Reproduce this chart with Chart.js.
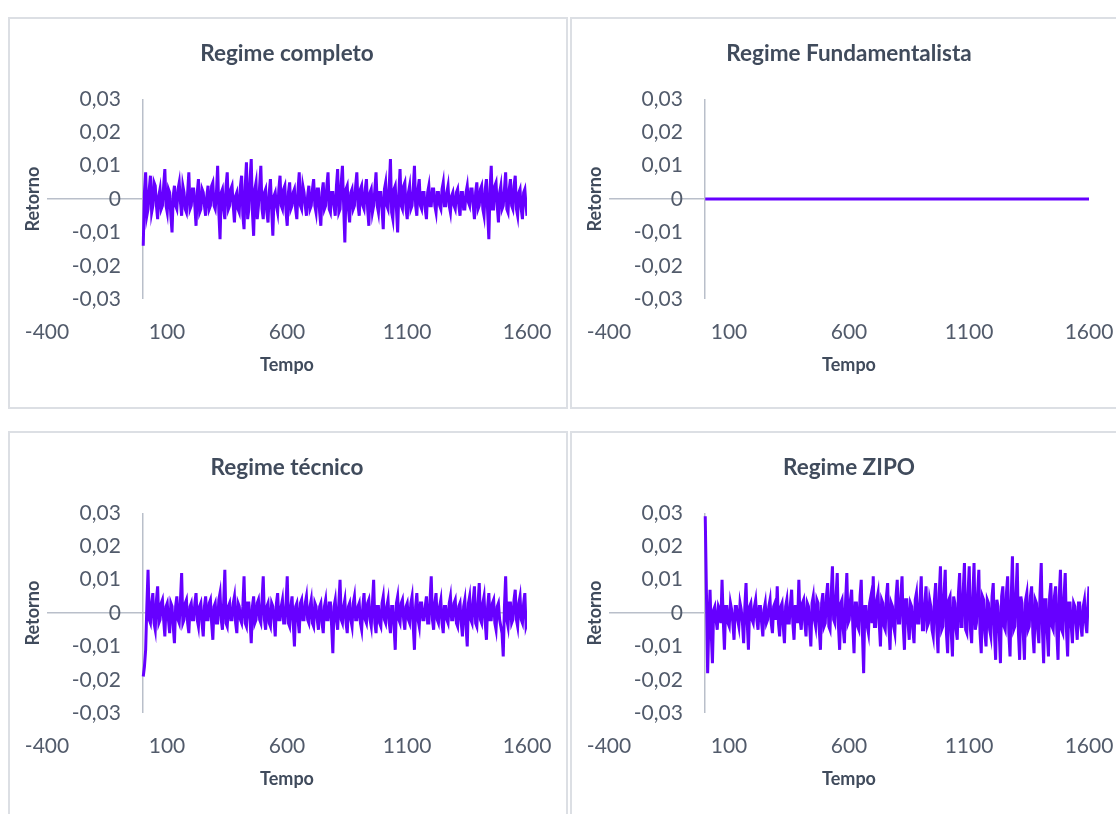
<!DOCTYPE html>
<html lang="pt">
<head>
<meta charset="utf-8">
<title>Regimes - Retorno</title>
<script src="https://cdn.jsdelivr.net/npm/chart.js@4.4.1/dist/chart.umd.min.js"></script>
<style>
  html, body { margin: 0; padding: 0; background: #fff; overflow: hidden; }
  body { width: 1116px; height: 814px; position: relative; }
  .painel {
    position: absolute;
    width: 560px;
    height: 392px;
    border: 2px solid #dcdfe4;
    box-sizing: border-box;
    background: #fff;
  }
  .painel canvas { display: block; }
</style>
</head>
<body>
<div class="painel" style="left:8px;top:17px"><canvas id="g1" width="556" height="388"></canvas></div>
<div class="painel" style="left:570px;top:17px"><canvas id="g2" width="556" height="388"></canvas></div>
<div class="painel" style="left:8px;top:431px"><canvas id="g3" width="556" height="388"></canvas></div>
<div class="painel" style="left:570px;top:431px"><canvas id="g4" width="556" height="388"></canvas></div>

<script>
// eixos
let xTicks = [-400, 100, 600, 1100, 1600];
let yTicks = [-0.03, -0.02, -0.01, 0, 0.01, 0.02, 0.03];

// tempo amostrado (cada 5 periodos)
let tempo = [
  1, 6, 11, 16, 21, 26, 31, 36, 41, 46, 51, 56, 61, 66, 71, 76, 81, 86, 91, 96,
  101, 106, 111, 116, 121, 126, 131, 136, 141, 146, 151, 156, 161, 166, 171, 176, 181, 186, 191, 196,
  201, 206, 211, 216, 221, 226, 231, 236, 241, 246, 251, 256, 261, 266, 271, 276, 281, 286, 291, 296,
  301, 306, 311, 316, 321, 326, 331, 336, 341, 346, 351, 356, 361, 366, 371, 376, 381, 386, 391, 396,
  401, 406, 411, 416, 421, 426, 431, 436, 441, 446, 451, 456, 461, 466, 471, 476, 481, 486, 491, 496,
  501, 506, 511, 516, 521, 526, 531, 536, 541, 546, 551, 556, 561, 566, 571, 576, 581, 586, 591, 596,
  601, 606, 611, 616, 621, 626, 631, 636, 641, 646, 651, 656, 661, 666, 671, 676, 681, 686, 691, 696,
  701, 706, 711, 716, 721, 726, 731, 736, 741, 746, 751, 756, 761, 766, 771, 776, 781, 786, 791, 796,
  801, 806, 811, 816, 821, 826, 831, 836, 841, 846, 851, 856, 861, 866, 871, 876, 881, 886, 891, 896,
  901, 906, 911, 916, 921, 926, 931, 936, 941, 946, 951, 956, 961, 966, 971, 976, 981, 986, 991, 996,
  1001, 1006, 1011, 1016, 1021, 1026, 1031, 1036, 1041, 1046, 1051, 1056, 1061, 1066, 1071, 1076, 1081, 1086, 1091, 1096,
  1101, 1106, 1111, 1116, 1121, 1126, 1131, 1136, 1141, 1146, 1151, 1156, 1161, 1166, 1171, 1176, 1181, 1186, 1191, 1196,
  1201, 1206, 1211, 1216, 1221, 1226, 1231, 1236, 1241, 1246, 1251, 1256, 1261, 1266, 1271, 1276, 1281, 1286, 1291, 1296,
  1301, 1306, 1311, 1316, 1321, 1326, 1331, 1336, 1341, 1346, 1351, 1356, 1361, 1366, 1371, 1376, 1381, 1386, 1391, 1396,
  1401, 1406, 1411, 1416, 1421, 1426, 1431, 1436, 1441, 1446, 1451, 1456, 1461, 1466, 1471, 1476, 1481, 1486, 1491, 1496,
  1501, 1506, 1511, 1516, 1521, 1526, 1531, 1536, 1541, 1546, 1551, 1556, 1561, 1566, 1571, 1576, 1581, 1586, 1591, 1596,
  1600
];

// retornos em milesimos (0,001)
let retornoCompleto = [
  -14, 2, 8, -5, -3, 3, 7, -4, -2, 5, 4, -2, -6, 1, 3, -3, -2, 4, 9, -2, -4, 3,
  2, -5, -10, 1, 4, -2, -3, 3, 5, -1, -5, 4, 2, -3, -4, 2, 8, -3, -2, 3,
  3, -2, -8, 2, 6, -4, -3, 3, 2, -2, -5, 1, 4, -3, -2, 4, 5, -2, -3, 2,
  10, -4, -12, 2, 3, -3, -6, 4, 8, -3, -2, 3, 4, -2, -7, 1, 2, -3, -4, 4,
  7, -5, -9, 4, 11, -6, -3, 6, 12, -4, -11, 3, 5, -6, -2, 4, 10, -3, -6, 2,
  3, -4, -7, 2, 6, -3, -11, 1, 2, -2, -4, 3, 7, -2, -3, 3, 4, -4, -8, 2,
  5, -3, -2, 2, 3, -3, -6, 3, 8, -2, -3, 4, 2, -2, -5, 1, 4, -3, -2, 3,
  6, -2, -4, 3, 3, -4, -8, 2, 5, -3, -2, 4, 8, -3, -4, 2, 2, -2, -5, 4,
  9, -4, -3, 5, 10, -2, -13, 3, 4, -3, -7, 2, 3, -3, -2, 4, 8, -2, -5, 3,
  4, -2, -3, 3, 6, -3, -8, 2, 3, -4, -2, 3, 8, -2, -4, 2, 2, -3, -9, 3,
  5, -2, -3, 4, 12, -4, -6, 3, 4, -3, -10, 2, 9, -2, -3, 4, 5, -3, -6, 2,
  4, -3, -2, 3, 10, -2, -5, 3, 6, -2, -3, 2, 2, -3, -6, 2, 4, -2, -2, 3,
  3, -2, -4, 2, 2, -2, -3, 3, 5, -2, -2, 2, 4, -2, -4, 1, 2, -2, -3, 2,
  3, -2, -5, 2, 2, -3, -3, 2, 4, -1, -2, 3, 3, -2, -6, 2, 5, -3, -2, 3,
  4, -3, -5, 3, 6, -4, -12, 3, 10, -3, -3, 4, 5, -2, -7, 2, 4, -3, -2, 3,
  8, -3, -4, 3, 6, -2, -3, 4, 7, -3, -5, 2, 3, -3, -6, 2, 3, -2, -5
];

let tempoFund = [1, 400, 800, 1200, 1600];
let retornoFund = [0, 0, 0, 0, 0];

let retornoTecnico = [
  -19, -16, -11, 2, 13, -2, -3, 3, 6, -3, -5, 4, 8, -3, -2, 3, 4, -2, -7, 2, 3, -2,
  -6, 3, 2, -4, -9, 2, 5, -2, -3, 4, 12, -3, -2, 3, 4, -3, -6, 2, 3, -2,
  -2, 3, 6, -2, -4, 2, 3, -3, -7, 2, 5, -2, -2, 3, 4, -3, -8, 2, 3, -3,
  -3, 4, 6, -2, -5, 3, 13, -3, -4, 2, 3, -2, -2, 3, 5, -3, -6, 3, 2, -2,
  -3, 2, 11, -3, -4, 3, 3, -2, -9, 2, 5, -3, -2, 3, 4, -2, -3, 4, 11, -2,
  -5, 2, 3, -3, -4, 3, 2, -2, -7, 3, 6, -2, -2, 2, 4, -3, -3, 3, 11, -3,
  -4, 2, 5, -3, -10, 2, 3, -2, -6, 3, 4, -2, -2, 3, 5, -2, -3, 2, 4, -3,
  -4, 3, 2, -2, -5, 2, 3, -3, -6, 2, 4, -2, -2, 3, 3, -4, -12, 2, 4, -2,
  -5, 3, 10, -2, -3, 2, 4, -3, -6, 2, 3, -2, -4, 3, 5, -2, -2, 2, 3, -3,
  -5, 2, 6, -2, -3, 3, 4, -2, -4, 3, 10, -3, -6, 2, 2, -3, -4, 3, 5, -2,
  -3, 2, 4, -3, -6, 2, 2, -4, -11, 3, 5, -2, -3, 3, 4, -2, -5, 2, 3, -2,
  -3, 3, 5, -4, -11, 2, 6, -2, -4, 3, 3, -2, -2, 2, 5, -3, -3, 4, 11, -2,
  -5, 3, 6, -2, -3, 2, 4, -3, -6, 2, 2, -2, -3, 3, 5, -2, -2, 3, 4, -3,
  -4, 2, 3, -3, -7, 2, 4, -4, -10, 3, 5, -2, -3, 4, 8, -3, -4, 3, 9, -2,
  -3, 3, 5, -3, -8, 2, 6, -2, -2, 3, 4, -3, -5, 2, 3, -2, -4, -6, -13, 2,
  11, -2, -4, 3, 3, -3, -2, 4, 7, -2, -4, 3, 5, -2, -3, 3, 6, -4, -3
];

let retornoZipo = [
  29, 6, -18, -3, 7, -6, -15, 1, 2, -2, -5, 2, 1, -3, 10, -2, -11, 2, 2, -3, -4, 3,
  1, -3, -8, 2, 2, -2, -4, 3, 1, -3, -9, 2, 9, -3, -11, 2, 3, -2, -3, 2,
  4, -2, -5, 2, 2, -3, -7, 1, 3, -3, -2, 2, 4, -3, -6, 2, 3, -2, 8, -3,
  -7, 2, 3, -4, -9, 2, 4, -3, -3, 3, 7, -3, -8, 2, 2, -3, 10, -2, -5, 3,
  4, -3, -7, 3, 2, -4, -10, 3, 5, -2, -4, 4, 3, -5, -11, 3, 6, -4, -3, 5,
  9, -4, -5, 6, 14, -2, -3, 5, 12, -4, -11, 3, 4, -5, -9, 4, 12, -3, -2, 4,
  7, -4, -12, 3, 3, -4, -5, 5, 10, -6, -18, 2, 2, -4, -6, 3, 5, -3, 11, -4,
  -4, 4, 6, -3, -10, 4, 3, -4, -5, 5, 9, -4, -11, 3, 2, -4, -6, 5, 10, -3,
  -3, 5, 11, -4, -11, 4, 4, -3, -8, 3, 2, -5, -9, 4, 6, -3, -3, 4, 11, -5,
  -5, 3, 8, -4, -3, 4, 2, -5, -7, 4, 9, -5, -12, 6, 14, -5, -4, 6, 13, -6,
  -12, 4, 5, -6, -13, 5, 3, -5, -8, 6, 12, -4, -4, 7, 15, -5, -6, 6, 14, -5,
  -9, 5, 15, -5, -3, 6, 13, -6, -12, 5, 4, -6, -10, 4, 3, -5, -7, 5, 9, -6,
  -14, 4, 2, -6, -15, 5, 8, -4, -5, 6, 11, -6, -13, 5, 17, -5, -4, 6, 15, -6,
  -14, 5, 3, -6, -14, 4, 6, -5, -4, 5, 8, -6, -12, 4, 3, -5, -9, 6, 15, -5,
  -15, 4, 4, -6, -13, 5, 9, -4, -5, 5, 8, -6, -14, 5, 13, -5, -6, 5, 12, -5,
  -13, 3, 3, -4, -9, 3, 2, -3, -8, 3, 3, -4, -7, 2, 4, -3, -6, 3, 8
];

let corLinha = '#6600ff';
let corEixo = '#b9bfca';
let corTexto = '#525b6b';
let corTitulo = '#404b5c';

Chart.defaults.font.family = 'Lato, "Open Sans", sans-serif';

function formatarY(v){
  if(v == 0) return '0';
  return v.toFixed(2).replace('.', ',');
}

function grafico(id, titulo, xs, ys){
  const pontos = xs.map((t, i) => ({ x: t, y: ys[i] / 1000 }));
  const ctx = document.getElementById(id).getContext('2d');
  return new Chart(ctx, {
    type: 'line',
    data: {
      datasets: [{
        data: pontos,
        borderColor: corLinha,
        borderWidth: 3,
        pointRadius: 0,
        tension: 0,
        fill: false,
        xAxisID: 'x',
        yAxisID: 'y'
      }]
    },
    options: {
      responsive: false,
      animation: false,
      events: [],
      layout: { padding: { left: 6, right: 39, top: 0, bottom: 27 } },
      plugins: {
        legend: { display: false },
        tooltip: { enabled: false },
        title: {
          display: true,
          fullSize: false,
          text: titulo,
          color: corTitulo,
          font: { size: 22.5, weight: 'bold', lineHeight: 1.2 },
          padding: { top: 21.5, bottom: 31.5 }
        }
      },
      scales: {
        x: {
          type: 'linear',
          min: -400,
          max: 1600,
          afterBuildTicks: (s) => {
            s.ticks = [xTicks[0], 0].concat(xTicks.slice(1)).map(v => ({ value: v }));
          },
          border: { display: false },
          grid: {
            drawTicks: true,
            tickLength: 20,
            tickColor: 'rgba(0,0,0,0)',
            lineWidth: 1.5,
            color: (c) => (c.tick && c.tick.value === 0) ? corEixo : 'rgba(0,0,0,0)'
          },
          ticks: {
            padding: 0,
            color: corTexto,
            font: { size: 21, lineHeight: 1.2 },
            maxRotation: 0,
            autoSkip: false,
            callback: (v) => v === 0 ? '' : String(v)
          },
          title: {
            display: true,
            text: 'Tempo',
            color: corTitulo,
            font: { size: 18, weight: 'bold', lineHeight: 1.2 },
            padding: { top: 10, bottom: 4 }
          }
        },
        y: {
          type: 'linear',
          min: -0.03,
          max: 0.03,
          position: { x: -92 },
          afterBuildTicks: (s) => { s.ticks = yTicks.map(v => ({ value: v })); },
          border: { display: false },
          grid: {
            drawTicks: false,
            lineWidth: 1.5,
            color: (c) => (c.tick && c.tick.value === 0) ? corEixo : 'rgba(0,0,0,0)'
          },
          ticks: {
            color: corTexto,
            font: { size: 21, lineHeight: 1.2 },
            autoSkip: false,
            callback: (v) => formatarY(v)
          }
        },
        yTitulo: {
          type: 'linear',
          position: 'left',
          min: 0,
          max: 1,
          border: { display: false },
          grid: { display: false, drawTicks: false },
          ticks: { display: false },
          title: {
            display: true,
            text: 'Retorno',
            color: corTitulo,
            font: { size: 18, weight: 'bold', lineHeight: 1.2 },
            padding: { top: 6.2, bottom: 3.2 }
          }
        }
      }
    }
  });
}

grafico('g1', 'Regime completo', tempo, retornoCompleto);
grafico('g2', 'Regime Fundamentalista', tempoFund, retornoFund);
grafico('g3', 'Regime técnico', tempo, retornoTecnico);
grafico('g4', 'Regime ZIPO', tempo, retornoZipo);
</script>
</body>
</html>
